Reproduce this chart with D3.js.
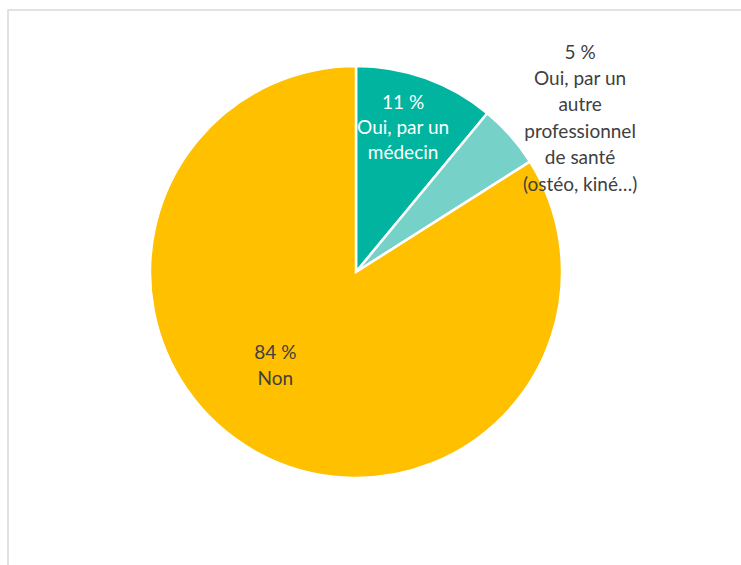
<!DOCTYPE html>
<html>
<head>
<meta charset="utf-8">
<script src="https://cdn.jsdelivr.net/npm/d3@7"></script>
<style>
  body { margin: 0; background: #fff; }
  text { font-family: Lato, "Open Sans", sans-serif; }
</style>
</head>
<body>
<div id="container"></div>
<script>
/* DATA */
const categories = ["Oui, par un médecin", "Oui, par un autre professionnel de santé (ostéo, kiné…)", "Non"];
const values = [11, 5, 84];
const labelLines = [
  ["11 %", "Oui, par un", "médecin"],
  ["5 %", "Oui, par un", "autre", "professionnel", "de santé", "(ostéo, kiné…)"],
  ["84 %", "Non"]
];
const colors = ["#00b4a0", "#76d1c9", "#ffc000"];
const textColors = ["#ffffff", "#404040", "#404040"];

/* LAYOUT */
const width = 741,
  height = 565,
  cx = 356,
  cy = 272,
  radius = 206;

const svg = d3.select("#container")
  .append("svg")
  .attr("width", width)
  .attr("height", height);

// frame
svg.append("path")
  .attr("d", `M8,${height} L8,10 L${width},10`)
  .attr("fill", "none")
  .attr("stroke", "#d9d9d9")
  .attr("stroke-width", 1.5);

const pie = d3.pie().sort(null).value(d => d);
const arcs = pie(values);

const arc = d3.arc().innerRadius(0).outerRadius(radius);

const g = svg.append("g")
  .attr("transform", `translate(${cx},${cy})`);

g.selectAll(".slice")
  .data(arcs)
  .join("path")
  .attr("class", "slice")
  .attr("d", arc)
  .attr("fill", (d, i) => colors[i])
  .attr("stroke", "#fff")
  .attr("stroke-width", 2.5);

// label placement: angle (deg from top, clockwise) and distance as share of radius
const labelPos = [
  { a: 18, r: 0.74, lineH: 25 },
  { a: 55.5, r: 1.32, lineH: 26.4 },
  { a: 220.7, r: 0.60, lineH: 26 }
];

arcs.forEach((d, i) => {
  const a = labelPos[i].a * Math.PI / 180;
  const x = Math.sin(a) * radius * labelPos[i].r,
    y = -Math.cos(a) * radius * labelPos[i].r;
  const lines = labelLines[i];
  const lh = labelPos[i].lineH;
  const t = g.append("text")
    .attr("text-anchor", "middle")
    .attr("fill", textColors[i])
    .attr("font-size", 19);
  lines.forEach((s, j) => {
    t.append("tspan")
      .attr("x", x)
      .attr("y", y + (j - (lines.length - 1) / 2) * lh)
      .attr("dy", "0.35em")
      .text(s);
  });
});
</script>
</body>
</html>
